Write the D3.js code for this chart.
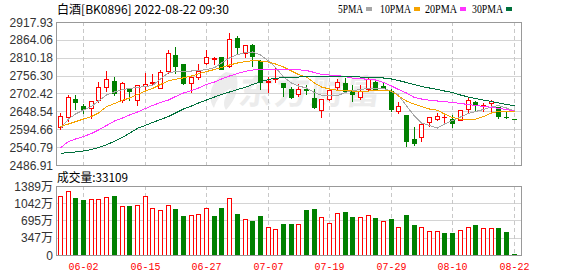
<!DOCTYPE html>
<html><head><meta charset="utf-8">
<script src="https://cdn.jsdelivr.net/npm/d3@7"></script>
<style>html,body{margin:0;padding:0;background:#fff;} svg{display:block;}</style>
</head><body><svg id="c" width="578" height="276"></svg>
<script>
const title = "白酒[BK0896] 2022-08-22 09:30";
const volTitle = "成交量:33109";
const legendNames = ["5PMA","10PMA","20PMA","30PMA"];
const legendColors = ["#a6a6a6","#f5a300","#ff33ff","#00703c"];
const watermark = "东方财富";

const dates = ["05-30","05-31","06-01","06-02","06-06","06-07","06-08","06-09","06-10","06-13",
"06-14","06-15","06-16","06-17","06-20","06-21","06-22","06-23","06-24","06-27",
"06-28","06-29","06-30","07-01","07-04","07-05","07-06","07-07","07-08","07-11",
"07-12","07-13","07-14","07-15","07-18","07-19","07-20","07-21","07-22","07-25",
"07-26","07-27","07-28","07-29","08-01","08-02","08-03","08-04","08-05","08-08",
"08-09","08-10","08-11","08-12","08-15","08-16","08-17","08-18","08-19","08-22"];
const xTickLabels = ["06-02","06-15","06-27","07-07","07-19","07-29","08-10","08-22"];

const open = [2602.3,2630.7,2685.8,2664.7,2657.8,2682.8,2721.1,2740.1,2681.9,2715.1,
2682.8,2725.9,2734.0,2719.9,2771.1,2818.4,2791.3,2733.1,2753.0,2793.4,
2806.4,2811.5,2786.2,2869.7,2825.4,2849.5,2801.3,2737.1,2745.2,2734.9,
2715.1,2700.9,2715.1,2687.9,2653.6,2684.9,2721.1,2734.0,2709.0,2692.7,
2715.1,2738.0,2725.9,2710.8,2650.6,2637.6,2565.3,2570.4,2615.6,2624.6,
2630.7,2626.4,2622.5,2654.8,2675.9,2666.5,2674.7,2660.8,2632.5,2626.0];
const high = [2642.7,2697.0,2697.0,2669.8,2679.5,2737.1,2770.2,2751.2,2737.1,2719.9,
2727.8,2765.1,2761.2,2773.2,2833.5,2843.4,2792.0,2758.1,2791.3,2833.5,
2813.3,2812.5,2885.6,2876.6,2849.5,2852.5,2802.0,2751.2,2778.3,2735.5,
2722.9,2730.1,2728.0,2716.0,2685.5,2714.0,2745.2,2748.2,2728.9,2727.1,
2751.2,2741.0,2738.0,2715.1,2677.7,2638.5,2600.5,2614.4,2631.5,2642.7,
2637.6,2638.5,2653.5,2690.9,2680.7,2673.8,2682.8,2661.5,2649.6,2626.0];
const low = [2595.4,2619.5,2654.8,2644.5,2629.5,2675.9,2710.8,2697.0,2677.7,2681.9,
2668.6,2716.0,2728.0,2718.1,2765.1,2763.3,2732.5,2706.0,2746.1,2790.4,
2791.3,2776.5,2783.2,2820.5,2811.5,2786.2,2716.9,2706.0,2738.0,2695.8,
2688.8,2694.9,2700.9,2658.7,2632.5,2684.0,2713.8,2710.0,2680.7,2686.7,
2713.0,2716.0,2719.0,2650.6,2644.5,2545.1,2548.1,2559.2,2605.3,2621.6,
2617.4,2602.3,2621.5,2642.7,2653.6,2650.6,2647.5,2629.5,2630.0,2625.0];
const close = [2635.5,2690.9,2677.7,2654.8,2678.9,2721.1,2745.2,2703.0,2734.0,2709.9,
2727.1,2731.0,2737.1,2766.3,2825.4,2786.2,2733.1,2751.2,2771.1,2811.5,
2808.5,2777.1,2865.7,2841.6,2848.6,2815.4,2736.2,2740.1,2747.0,2721.1,
2692.7,2715.1,2712.9,2662.6,2684.9,2713.0,2736.2,2710.8,2701.8,2709.9,
2745.2,2716.9,2719.9,2656.6,2664.7,2560.1,2554.1,2611.4,2630.7,2634.6,
2632.5,2614.4,2652.7,2682.8,2667.7,2669.0,2680.7,2634.6,2630.7,2625.4];
// volume in 万
const volume = [1188,1288,1147,1107,1121,1121,1161,1188,986,986,
1006,1188,940,906,1000,926,785,805,825,940,
785,940,1141,832,718,684,785,570,517,624,
624,624,906,926,758,644,839,866,765,758,
799,745,678,725,564,805,604,564,483,477,
443,443,497,557,604,537,537,543,463,3.3];

const ma5 = [2597.5,2625.5,2640.6,2652.7,2663.2,2679.8,2697.9,2706.9,2714.4,2717.5,
2720.5,2723.5,2726.5,2746.1,2765.1,2768.7,2770.2,2770.2,2771.7,2774.7,
2780.2,2794.3,2809.4,2819.9,2825.4,2827.5,2818.4,2800.3,2780.8,2752.1,
2734.0,2725.0,2719.0,2705.4,2697.0,2694.9,2696.4,2705.4,2711.4,2714.4,
2718.1,2718.1,2717.5,2708.4,2697.9,2664.7,2634.6,2613.5,2605.9,2598.4,
2610.5,2621.0,2631.6,2642.1,2648.1,2654.2,2661.7,2666.2,2658.7,2649.6];
const ma10 = [2602.9,2610.5,2617.4,2625.5,2633.1,2643.6,2662.6,2672.3,2681.9,2688.8,
2699.4,2709.9,2717.5,2729.5,2741.0,2745.2,2749.7,2755.1,2761.8,2768.7,
2774.7,2780.8,2788.3,2794.3,2798.8,2801.3,2800.3,2797.3,2791.3,2782.3,
2770.2,2759.7,2752.1,2734.0,2722.0,2716.0,2712.0,2710.8,2709.9,2709.9,
2709.9,2710.5,2710.8,2709.9,2694.9,2679.8,2669.8,2663.2,2655.7,2651.8,
2640.6,2630.1,2624.6,2624.6,2624.6,2633.1,2643.6,2648.1,2648.7,2648.7];
const ma20 = [2539.0,2557.7,2565.3,2572.8,2581.8,2592.4,2605.9,2619.5,2628.5,2637.6,
2646.6,2657.2,2666.2,2675.3,2682.8,2693.3,2703.9,2711.4,2719.0,2729.5,
2737.1,2746.1,2755.1,2762.7,2769.3,2773.2,2774.1,2775.3,2775.3,2775.3,
2774.7,2774.1,2771.7,2765.7,2759.7,2758.1,2756.6,2753.0,2749.1,2747.0,
2745.2,2743.1,2735.5,2725.0,2714.4,2703.9,2690.3,2685.8,2681.9,2679.8,
2677.7,2675.3,2672.3,2669.2,2666.2,2663.8,2660.8,2657.8,2654.2,2649.6];
const ma30 = [2522.2,2524.0,2526.1,2529.1,2533.6,2539.0,2548.1,2558.3,2570.4,2582.4,
2597.5,2606.5,2615.0,2624.0,2633.1,2643.6,2655.7,2664.7,2673.8,2682.8,
2691.8,2699.4,2706.9,2714.4,2721.1,2729.5,2738.0,2744.6,2748.2,2750.6,
2752.1,2752.1,2753.0,2753.0,2753.0,2753.0,2753.6,2753.6,2753.0,2752.1,
2751.2,2750.0,2749.1,2746.1,2741.6,2735.5,2729.5,2723.5,2719.0,2714.4,
2709.9,2705.4,2697.9,2691.8,2687.3,2682.8,2678.3,2673.8,2669.2,2665.6];

const priceTickLabels = ["2917.93","2864.06","2810.18","2756.30","2702.42","2648.54","2594.66","2540.79","2486.91"];
const volTickLabels = ["1389万","1042万","695万","347万","0"];

// ---------- layout ----------
const L = 56, R = 522, pTop = 22, pBot = 165, vTop = 186, vBot = 255;
const RED = "#ff0000", GREEN = "#008000", GRID = "#d4d4d4", FRAME = "#999999";
const svg = d3.select("#c");
svg.append("rect").attr("width",578).attr("height",276).attr("fill","#fff");

const pVals = priceTickLabels.map(Number);
const y = d3.scaleLinear().domain([d3.min(pVals), d3.max(pVals)]).range([pBot, pTop]);
const vVals = volTickLabels.map(s => parseFloat(s));
const yv = d3.scaleLinear().domain([0, d3.max(vVals)]).range([vBot, vTop]);
const x = d3.scaleBand().domain(dates).range([56.65, 518.05]);
const cx = d => Math.floor(x(d) + x.bandwidth()/2) + 0.5;

// watermark
const wm = svg.append("g").attr("fill","#ececec");
wm.append("path")
  .attr("d","M226,72 C212,80 206,96 214,108 C216,100 222,92 232,88 C224,96 222,104 226,110 C236,100 240,86 236,74 Z");
wm.append("text").attr("x",238).attr("y",104).attr("font-family","Noto Sans CJK SC")
  .attr("font-weight","bold").attr("font-size",34).attr("textLength",142).attr("lengthAdjust","spacing")
  .attr("transform","skewX(-8) translate(14,0)").text(watermark);

// gridlines
const g = svg.append("g").attr("shape-rendering","crispEdges");
pVals.forEach(v => g.append("line").attr("x1",L).attr("x2",R).attr("y1",Math.round(y(v))+0.5).attr("y2",Math.round(y(v))+0.5).attr("stroke",GRID));
vVals.forEach(v => g.append("line").attr("x1",L).attr("x2",R).attr("y1",Math.round(yv(v))+0.5).attr("y2",Math.round(yv(v))+0.5).attr("stroke",GRID));
xTickLabels.forEach(d => {
  const xx = cx(d);
  g.append("line").attr("x1",xx).attr("x2",xx).attr("y1",pTop).attr("y2",pBot).attr("stroke","#c8c8c8").attr("stroke-dasharray","4,3");
  g.append("line").attr("x1",xx).attr("x2",xx).attr("y1",vTop).attr("y2",vBot).attr("stroke","#c8c8c8").attr("stroke-dasharray","4,3");
});

// candles
const cg = svg.append("g").attr("shape-rendering","crispEdges");
dates.forEach((d,i) => {
  const up = close[i] > open[i];
  const col = up ? RED : GREEN;
  const xx = cx(d);
  const yH = Math.round(y(high[i])), yL = Math.round(y(low[i]));
  const yO = Math.round(y(open[i])), yC = Math.round(y(close[i]));
  cg.append("line").attr("x1",xx).attr("x2",xx).attr("y1",yH).attr("y2",yL+1).attr("stroke",col);
  const top = Math.min(yO,yC), bot = Math.max(yO,yC);
  if (bot - top < 1) {
    cg.append("line").attr("x1",xx-2.5).attr("x2",xx+2.5).attr("y1",top+0.5).attr("y2",top+0.5).attr("stroke",col);
  } else if (up) {
    cg.append("rect").attr("x",xx-2).attr("y",top+0.5).attr("width",4).attr("height",bot-top)
      .attr("fill","#fff").attr("stroke",col);
  } else {
    cg.append("rect").attr("x",xx-2.5).attr("y",top).attr("width",5).attr("height",bot-top+1).attr("fill",col);
  }
});

// moving averages
const line = d3.line().x((v,i) => cx(dates[i])).y(v => y(v));
[ma5, ma10, ma20, ma30].forEach((arr,k) => {
  svg.append("path").attr("d", line(arr)).attr("fill","none")
    .attr("stroke", legendColors[k]).attr("stroke-width",1).attr("shape-rendering","crispEdges");
});

// volume bars
const vg = svg.append("g").attr("shape-rendering","crispEdges");
dates.forEach((d,i) => {
  const up = i === 0 ? close[i] >= open[i] : close[i] >= close[i-1];
  const xx = cx(d);
  const t = Math.min(Math.round(yv(volume[i])), vBot - 1);
  if (up) {
    vg.append("rect").attr("x",xx-2).attr("y",t+0.5).attr("width",4).attr("height",vBot-t-0.5)
      .attr("fill","#fff").attr("stroke",RED);
  } else {
    vg.append("rect").attr("x",xx-2.5).attr("y",t).attr("width",5).attr("height",vBot-t).attr("fill",GREEN);
  }
});

// frames
svg.append("rect").attr("x",L+0.5).attr("y",pTop+0.5).attr("width",R-L-1).attr("height",pBot-pTop)
  .attr("fill","none").attr("stroke",FRAME).attr("shape-rendering","crispEdges");
svg.append("rect").attr("x",L+0.5).attr("y",vTop+0.5).attr("width",R-L-1).attr("height",vBot-vTop)
  .attr("fill","none").attr("stroke",FRAME).attr("shape-rendering","crispEdges");

// axis labels
const lab = svg.append("g").attr("font-family","Liberation Sans, Arial, sans-serif").attr("font-size",12).attr("fill","#333");
priceTickLabels.forEach((s,k) => lab.append("text").attr("x",53).attr("y",y(pVals[k])+4.5).attr("text-anchor","end").text(s));
volTickLabels.forEach((s,k) => lab.append("text").attr("x",53).attr("y",yv(vVals[k])+4.5).attr("text-anchor","end")
  .attr("font-family","Liberation Sans, Noto Sans CJK SC, sans-serif").text(s));

const xl = svg.append("g").attr("font-family","Liberation Mono, DejaVu Sans Mono, monospace").attr("font-size",11).attr("fill",RED);
xTickLabels.forEach(d => xl.append("text").attr("x",cx(d)).attr("y",270).attr("text-anchor","middle")
  .attr("textLength",30).attr("lengthAdjust","spacingAndGlyphs").text(d));

// titles
svg.append("text").attr("x",57).attr("y",14).attr("font-family","Noto Sans CJK SC, sans-serif").attr("font-size",12)
  .attr("fill","#000").attr("textLength",172).attr("lengthAdjust","spacingAndGlyphs").text(title);
svg.append("text").attr("x",57).attr("y",182).attr("font-family","Noto Sans CJK SC, sans-serif").attr("font-size",12)
  .attr("fill","#000").attr("textLength",71).attr("lengthAdjust","spacingAndGlyphs").text(volTitle);

// legend
const legX = [338, 380, 425, 472], legW = [25, 31, 32, 31];
legendNames.forEach((n,k) => {
  svg.append("text").attr("x",legX[k]).attr("y",13).attr("font-family","Liberation Serif, serif").attr("font-size",12)
    .attr("fill","#000").attr("textLength",legW[k]).attr("lengthAdjust","spacingAndGlyphs").text(n);
  svg.append("rect").attr("x",legX[k]+legW[k]+3).attr("y",7).attr("width",6).attr("height",4).attr("fill",legendColors[k]);
});
</script></body></html>
